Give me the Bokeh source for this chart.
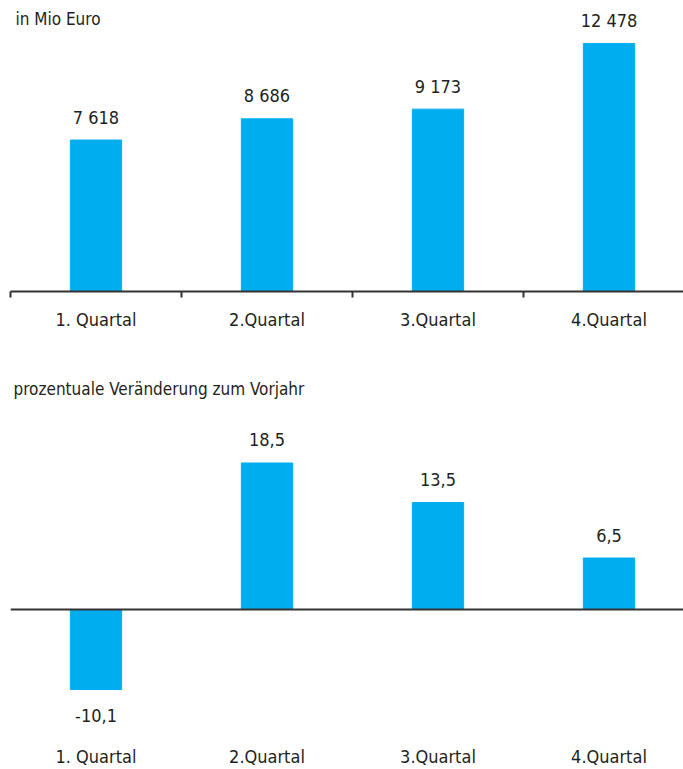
from bokeh.plotting import figure
from bokeh.models import Range1d, FixedTicker, ColumnDataSource, Label, Span
from bokeh.layouts import column
from bokeh.embed import file_html
from bokeh.resources import INLINE
from bokeh.core.properties import value

categories = ["1. Quartal", "2.Quartal", "3.Quartal", "4.Quartal"]
umsatz = [7618, 8686, 9173, 12478]
veraenderung = [-10.1, 18.5, 13.5, 6.5]
title_top = "in Mio Euro"
title_bottom = "prozentuale Veränderung zum Vorjahr"

FONT = "'DejaVu Sans Condensed', 'Liberation Sans', sans-serif"
BLUE = "#00AEEF"
TXT = "#231F20"
AX = "#333333"

xs = [i + 0.5 for i in range(len(categories))]
label_overrides = {x: c for x, c in zip(xs, categories)}
xmax = 673 / 171

# ---------- top panel ----------
p1 = figure(width=683, height=345, output_backend="svg", toolbar_location=None,
            x_range=Range1d(0, xmax), y_range=Range1d(0, 14638),
            min_border_left=10, min_border_right=0, min_border_top=0, min_border_bottom=54)
p1.outline_line_color = None
p1.grid.visible = False
p1.yaxis.visible = False
p1.background_fill_color = None
p1.border_fill_color = None

src1 = ColumnDataSource(dict(x=xs, top=umsatz,
                             lbl=[f"{v:,}".replace(",", " ") for v in umsatz]))
p1.vbar(x="x", top="top", bottom=0, width=0.3, color=BLUE, source=src1)
p1.text(x="x", y="top", text="lbl", source=src1, y_offset=-23,
        text_align="center", text_baseline="middle",
        text_font=value(FONT), text_font_size="18px", text_color=TXT)

ax1 = p1.xaxis[0]
ax1.ticker = FixedTicker(ticks=xs, minor_ticks=list(range(len(categories) + 1)))
ax1.major_label_overrides = label_overrides
ax1.major_tick_out = 0
ax1.major_tick_in = 0
ax1.minor_tick_out = 6
ax1.minor_tick_in = 0
ax1.minor_tick_line_color = AX
ax1.minor_tick_line_width = 2
ax1.axis_line_color = AX
ax1.axis_line_width = 2
ax1.major_label_standoff = 11
ax1.major_label_text_font = FONT
ax1.major_label_text_font_size = "18px"
ax1.major_label_text_color = TXT

p1.add_layout(Label(x=5 / 171, y=(291 - 18) / 0.01988, text=title_top,
                    text_baseline="middle", text_font=FONT, text_font_size="17px",
                    text_color=TXT))

# ---------- bottom panel ----------
ymax2 = 264 / 7.92
ymin2 = -126 / 7.92
p2 = figure(width=683, height=424, output_backend="svg", toolbar_location=None,
            x_range=Range1d(0, xmax), y_range=Range1d(ymin2, ymax2),
            min_border_left=10, min_border_right=0, min_border_top=0, min_border_bottom=34)
p2.outline_line_color = None
p2.grid.visible = False
p2.yaxis.visible = False
p2.background_fill_color = None
p2.border_fill_color = None

src2 = ColumnDataSource(dict(x=xs, top=veraenderung,
                             lbl=[f"{v:.1f}".replace(".", ",") for v in veraenderung],
                             off=[-23 if v >= 0 else 26 for v in veraenderung]))
p2.vbar(x="x", top="top", bottom=0, width=0.3, color=BLUE, source=src2)
p2.text(x="x", y="top", text="lbl", source=src2, y_offset="off",
        text_align="center", text_baseline="middle",
        text_font=value(FONT), text_font_size="18px", text_color=TXT)
p2.add_layout(Span(location=0, dimension="width", line_color=AX, line_width=2))

ax2 = p2.xaxis[0]
ax2.ticker = FixedTicker(ticks=xs)
ax2.major_label_overrides = label_overrides
ax2.major_tick_out = 0
ax2.major_tick_in = 0
ax2.axis_line_color = None
ax2.major_label_standoff = 10
ax2.major_label_text_font = FONT
ax2.major_label_text_font_size = "18px"
ax2.major_label_text_color = TXT

p2.add_layout(Label(x=3 / 171, y=ymax2 - 43 / 7.92, text=title_bottom,
                    text_baseline="middle", text_font=FONT, text_font_size="17px",
                    text_color=TXT))

layout = column(p1, p2, spacing=0)
open("out.html", "w").write(file_html(layout, INLINE))
